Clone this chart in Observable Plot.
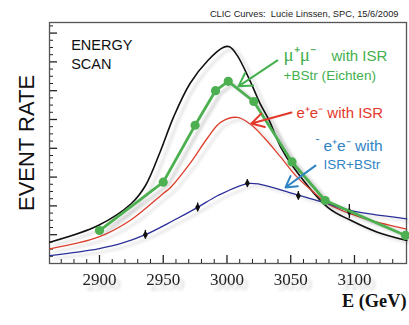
<!DOCTYPE html>
<html><head><meta charset="utf-8">
<script src="https://cdn.jsdelivr.net/npm/d3@7"></script>
<script src="https://cdn.jsdelivr.net/npm/@observablehq/plot@0.6"></script>
<style>
html,body{margin:0;padding:0;background:#fff;}
#chart svg{display:block;}
</style></head><body><div id="chart"></div>
<script>
// Energy (GeV) and event rate (arbitrary units)
const noIsrE = [2861, 2899, 2925, 2936, 2948, 2958, 2971, 2985, 2997, 3002, 3008, 3018, 3026, 3033, 3042, 3052, 3079, 3097, 3118, 3141];
const noIsrV = [2.96, 5.28, 8.33, 10.8, 15.7, 20.3, 25.0, 28.2, 30.0, 30.1, 28.9, 25.4, 22.2, 19.9, 16.2, 13.4, 7.8, 6.0, 4.35, 3.2];

const isrE = [2861, 2899, 2924, 2950, 2956, 2971, 2985, 2995, 3008, 3018, 3029, 3042, 3055, 3068, 3079, 3105, 3140];
const isrV = [2.04, 3.65, 5.97, 9.72, 10.6, 13.9, 17.5, 19.6, 20.3, 19.4, 17.5, 14.8, 12.0, 9.9, 8.3, 6.4, 4.8];

const muE = [2900, 2950, 2975, 2991, 3001, 3021, 3051, 3077, 3140];
const muV = [4.58, 11.3, 19.2, 24.0, 25.3, 22.5, 14.1, 8.75, 3.9];

const bsE = [2861, 2899, 2917, 2936, 2958, 2977, 2993, 3016, 3026, 3052, 3079, 3095, 3141];
const bsV = [1.1, 2.04, 2.78, 4.0, 5.97, 7.8, 9.44, 11.1, 11.0, 9.7, 8.3, 7.4, 6.2];

const ptE = [2936, 2977, 3016, 3056, 3096];
const ptV = [4.0, 7.8, 11.15, 9.4, 7.2];
const ptErr = [0.6, 0.6, 0.5, 0.6, 1.0];

const xMajor = [2900, 2950, 3000, 3050, 3100];
const xMinor = [2870, 2880, 2890, 2910, 2920, 2930, 2940, 2960, 2970, 2980, 2990, 3010, 3020, 3030, 3040, 3060, 3070, 3080, 3090, 3110, 3120, 3130];
const yMinor = [1,2,3,5,6,7,9,10,11,13,14,15,17,18,19,21,22,23,25,26,27,29,30,31,33];
const yMajor = [4, 8, 12, 16, 20, 24, 28, 32];

const credit = "CLIC Curves:  Lucie Linssen, SPC, 15/6/2009";
const scanLabel = "ENERGY\nSCAN";
const yLabel = "EVENT RATE";
const xLabel = "E (GeV)";
const muLabel = ["μ⁺μ⁻", "with ISR", "+BStr (Eichten)"];
const isrLabel = "e⁺e⁻ with ISR";
const bsLabel = ["e⁺e⁻ with", "ISR+BStr"];

const zip = (E, V) => E.map((e, i) => ({E: e, V: V[i]}));
const black = zip(noIsrE, noIsrV), red = zip(isrE, isrV), green = zip(muE, muV), blue = zip(bsE, bsV);
const pts = ptE.map((e, i) => ({E: e, V: ptV[i], lo: ptV[i] - ptErr[i], hi: ptV[i] + ptErr[i]}));

const W = 409, H = 325, mL = 49, mR = 3, mT = 22, mB = 62;
const FH = H - mT - mB, FW = W - mL - mR;
const xDom = [2860.8, 3140.8], yDom = [0, 33.47];
const yPx = (yDom[1] - yDom[0]) / FH, xPx = (xDom[1] - xDom[0]) / FW; // data units per pixel
const sans = "'Liberation Sans', Arial, sans-serif";
const serif = "'Liberation Serif', 'Times New Roman', serif";
const G = "#44b04e", R = "#e3392b", B = "#2f84c4";

const svg = Plot.plot({
  width: W, height: H,
  marginLeft: mL, marginRight: mR, marginTop: mT, marginBottom: mB,
  x: {domain: xDom, axis: null},
  y: {domain: yDom, axis: null},
  style: {background: "#fff", fontFamily: sans},
  marks: [
    // inward ticks
    Plot.ruleX(xMinor, {x: d => d, y1: yDom[0], y2: yDom[0] + 4 * yPx, stroke: "#222"}),
    Plot.ruleX(xMajor, {x: d => d, y1: yDom[0], y2: yDom[0] + 8 * yPx, stroke: "#222", strokeWidth: 1.3}),
    Plot.ruleY(yMinor, {y: d => d, x1: xDom[0], x2: xDom[0] + 4 * xPx, stroke: "#222"}),
    Plot.ruleY(yMajor, {y: d => d, x1: xDom[0], x2: xDom[0] + 8 * xPx, stroke: "#222", strokeWidth: 1.3}),
    Plot.frame({stroke: "#555", strokeWidth: 1.3}),
    Plot.axisX(xMajor, {tickSize: 0, tickPadding: 9, fontSize: 17, fontFamily: serif, fill: "#222", label: null, tickFormat: d => String(d)}),
    // curves
    Plot.line(black, {x: "E", y: "V", stroke: "#111", strokeWidth: 1.6, curve: "catmull-rom"}),
    Plot.line(red, {x: "E", y: "V", stroke: "#dc3f2c", strokeWidth: 1.3, curve: "catmull-rom"}),
    Plot.line(blue, {x: "E", y: "V", stroke: "#2a2f98", strokeWidth: 1.3, curve: "catmull-rom"}),
    Plot.ruleX(pts, {x: "E", y1: "lo", y2: "hi", stroke: "#111", strokeWidth: 1.3}),
    Plot.dot(pts, {x: "E", y: "V", symbol: "diamond", r: 2.6, fill: "#111", stroke: "none"}),
    Plot.line(green, {x: "E", y: "V", stroke: "#4caf50", strokeWidth: 2.8}),
    Plot.dot(green, {x: "E", y: "V", r: 4.6, fill: "#4caf50", stroke: "none"}),
    // arrows
    Plot.arrow([0], {x1: 3039.6, y1: 28.2, x2: 3009.0, y2: 24.6, stroke: G, strokeWidth: 2, headLength: 11}),
    Plot.arrow([0], {x1: 3050.6, y1: 20.97, x2: 3019.2, y2: 19.44, stroke: R, strokeWidth: 2, headLength: 11}),
    Plot.arrow([0], {x1: 3069.4, y1: 13.6, x2: 3045.9, y2: 10.56, stroke: B, strokeWidth: 2, headLength: 11}),
    // annotations
    Plot.text([scanLabel], {x: 2877.8, y: 27.0, text: d => d, textAnchor: "start", lineAnchor: "bottom", lineHeight: 1.3, fontSize: 14.5, fill: "#111"}),
    Plot.text([muLabel[0]], {x: 3044.3, y: 28.06, text: d => d, textAnchor: "start", lineAnchor: "bottom", fontSize: 19, fontFamily: serif, fill: G}),
    Plot.text([muLabel[1]], {x: 3082, y: 28.06, text: d => d, textAnchor: "start", lineAnchor: "bottom", fontSize: 15, fill: G}),
    Plot.text([muLabel[2]], {x: 3044.3, y: 25.42, text: d => d, textAnchor: "start", lineAnchor: "bottom", fontSize: 13.6, fill: G}),
    Plot.text([isrLabel], {x: 3054.5, y: 20.14, text: d => d, textAnchor: "start", lineAnchor: "bottom", fontSize: 15, fill: R}),
    Plot.text(["-"], {x: 3069.4, y: 16.67, text: d => d, textAnchor: "start", lineAnchor: "bottom", fontSize: 12, fill: B}),
    Plot.text([bsLabel[0]], {x: 3075.7, y: 15.56, text: d => d, textAnchor: "start", lineAnchor: "bottom", fontSize: 15.5, fill: B}),
    Plot.text([bsLabel[1]], {x: 3075.7, y: 13.06, text: d => d, textAnchor: "start", lineAnchor: "bottom", fontSize: 13.5, fill: B}),
    // outer texts
    Plot.text([credit], {frameAnchor: "top-right", dx: -8, dy: -5.5, text: d => d, textAnchor: "end", lineAnchor: "bottom", fontSize: 9.3, fill: "#222"}),
    Plot.text([yLabel], {frameAnchor: "left", dx: -16, rotate: -90, text: d => d, textAnchor: "middle", lineAnchor: "bottom", fontSize: 22, fill: "#111"}),
    Plot.text([xLabel], {frameAnchor: "bottom-right", dx: 0, dy: 43, text: d => d, textAnchor: "end", lineAnchor: "bottom", fontSize: 18.3, fontWeight: "bold", fontFamily: serif, fill: "#111"})
  ]
});

d3.select(svg).selectAll('g[aria-label="line"]').style("filter", "drop-shadow(5px 3px 1.5px rgba(0,0,0,0.18))");
d3.select(svg).selectAll('g[aria-label="x-axis tick label"]').style("filter", "drop-shadow(4px 5px 1.5px rgba(0,0,0,0.2))");
document.getElementById("chart").appendChild(svg);
</script></body></html>
